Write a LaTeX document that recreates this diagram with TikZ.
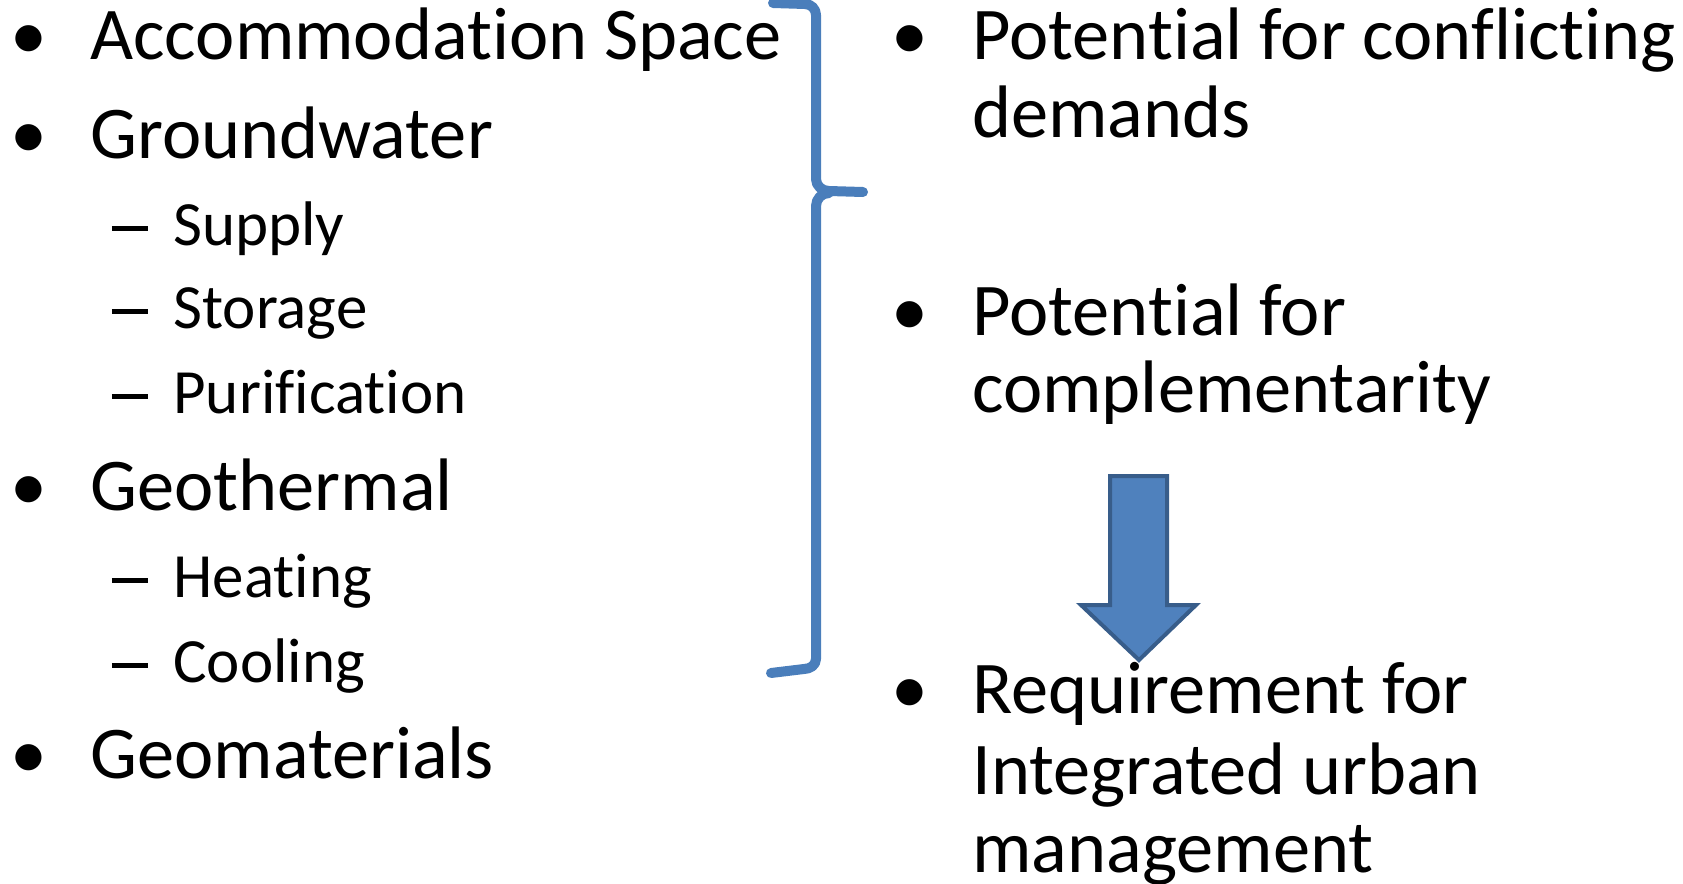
\documentclass[tikz,border=0pt]{standalone}
\usepackage{fontspec}
\setmainfont{Carlito}[Ligatures=NoCommon]
\definecolor{braceblue}{HTML}{4A7EBB}
\definecolor{arrowfill}{HTML}{4F81BD}
\definecolor{arrowline}{HTML}{385D8A}
\newcommand{\listdash}{\rule[7pt]{18pt}{2.3pt}}
\tikzset{
  lvlone/.style={anchor=base west, inner sep=0pt, font=\fontsize{37.2}{44}\selectfont},
  lvltwo/.style={anchor=base west, inner sep=0pt, font=\fontsize{31.5}{38}\selectfont},
  bulletmark/.style={anchor=base, inner sep=0pt, font=\fontsize{37}{44}\selectfont},
  dashmark/.style={anchor=base, inner sep=0pt},
  bracestroke/.style={draw=braceblue, line width=5pt, line cap=round, line join=round},
  blockarrow/.style={fill=arrowfill, draw=arrowline, line width=2pt, line join=miter}
}
\begin{document}
\begin{tikzpicture}[x=0.5pt, y=-0.5pt]
\useasboundingbox (0,0) rectangle (1683,884);

% left column, first level
\node[bulletmark] (bA) at (29,59) {•};
\node[lvlone] (tA) at (90,59) {Accommodation Space};
\node[bulletmark] (bG) at (29,158) {•};
\node[lvlone] (tG) at (90,158) {Groundwater};
\node[bulletmark] (bT) at (29,510) {•};
\node[lvlone] (tT) at (90,510) {Geothermal};
\node[bulletmark] (bM) at (29,778) {•};
\node[lvlone] (tM) at (90,778) {Geomaterials};

% left column, second level
\node[dashmark] (d1) at (130,245) {\listdash};
\node[lvltwo] (s1) at (173,245) {Supply};
\node[dashmark] (d2) at (130,328) {\listdash};
\node[lvltwo] (s2) at (173,328) {Storage};
\node[dashmark] (d3) at (130,413) {\listdash};
\node[lvltwo] (s3) at (173,413) {Purification};
\node[dashmark] (d4) at (130,597) {\listdash};
\node[lvltwo] (s4) at (173,597) {Heating};
\node[dashmark] (d5) at (130,682) {\listdash};
\node[lvltwo] (s5) at (173,682) {Cooling};

% right column
\node[bulletmark] (r1b) at (910,59) {•};
\node[lvlone] (r1a) at (972,59) {Potential for conflicting};
\node[lvlone] (r1c) at (972,137) {demands};
\node[bulletmark] (r2b) at (910,335) {•};
\node[lvlone] (r2a) at (972,335) {Potential for};
\node[lvlone] (r2c) at (972,412) {complementarity};
\node[bulletmark] (r3b) at (910,713) {•};
\node[lvlone] (r3a) at (972,713) {Requirement for};
\node[lvlone] (r3c) at (972,794) {Integrated urban};
\node[lvlone] (r3d) at (972,872) {management};

% right brace
\draw[bracestroke] (773,3) -- (805,4) to[out=0,in=90] (816,15) -- (816,179)
  to[out=-90,in=180] (829,191) -- (863,192);
\draw[bracestroke] (829,193) to[out=180,in=90] (816,206) -- (816,659)
  to[out=-90,in=0] (804,669) -- (771,673);

% block arrow pointing down
\draw[blockarrow] (1110,476) -- (1167,476) -- (1167,605) -- (1196,605)
  -- (1139,660) -- (1081,605) -- (1110,605) -- cycle;
\end{tikzpicture}
\end{document}
